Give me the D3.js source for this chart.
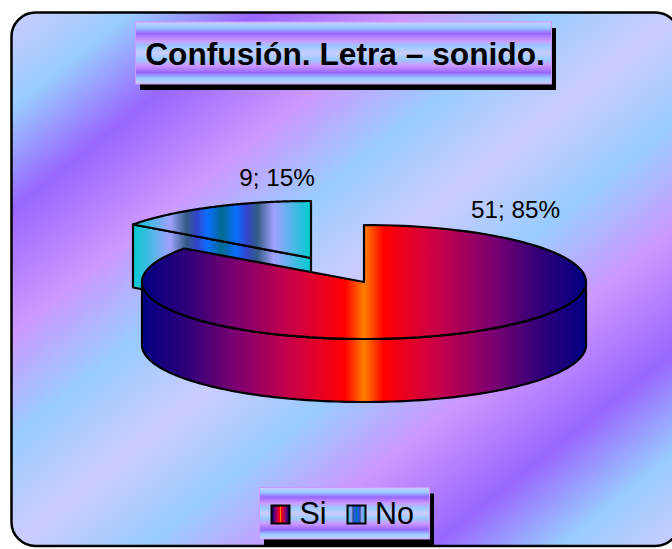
<!DOCTYPE html>
<html><head><meta charset="utf-8">
<style>html,body{margin:0;padding:0;background:#fff}svg{display:block}</style>
<script src="https://cdn.jsdelivr.net/npm/d3@7/dist/d3.min.js"></script>
</head><body><svg id="c" width="672" height="549"></svg>
<script>
const categories = ["Si", "No"];
const values = [51, 9];
const titleText = "Confusión. Letra – sonido.";

const svg = d3.select("#c");
const defs = svg.append("defs");
const nightStops = [[0,"#ccccff"],[.09,"#99ccff"],[.185,"#9966ff"],[.30,"#cc99ff"],[.40,"#99ccff"],[.5,"#ccccff"],[.6,"#99ccff"],[.70,"#cc99ff"],[.815,"#9966ff"],[.91,"#99ccff"],[1,"#ccccff"]];
const fireStops = [[0,"#000080"],[.104,"#300078"],[.216,"#800070"],[.336,"#c80048"],[.42,"#f00018"],[.457,"#ff0000"],[.5,"#ff8000"],[.545,"#ff0000"],[.58,"#f00018"],[.664,"#c80048"],[.784,"#800070"],[.896,"#300078"],[1,"#000080"]];
const oceanStops = [[0,"#00ccd0"],[.21,"#a0a0ff"],[.30,"#335c85"],[.36,"#3344cc"],[.42,"#0a6eff"],[.5,"#006a90"],[.58,"#0a6eff"],[.64,"#3344cc"],[.70,"#335c85"],[.79,"#a0a0ff"],[1,"#00ccd0"]];
function grad(id, stops, attrs){
  const g = defs.append("linearGradient").attr("id", id);
  Object.entries(attrs).forEach(([k,v]) => g.attr(k,v));
  g.selectAll("stop").data(stops).join("stop").attr("offset", d=>d[0]).attr("stop-color", d=>d[1]);
}
grad("bg", nightStops, {x1:0,y1:0,x2:1,y2:1});
grad("band", nightStops, {x1:0,y1:0,x2:0,y2:1});

const radiiX = [222,220], ry = 57, depth = 63;
const centers = [[364,282],[311,258]];
grad("s0", fireStops, {gradientUnits:"userSpaceOnUse",x1:142,x2:586,y1:0,y2:0});
grad("s1", oceanStops, {gradientUnits:"userSpaceOnUse",x1:133,x2:311,y1:0,y2:0});
grad("k0", fireStops, {});
grad("k1", oceanStops, {});

// chart area
svg.append("rect").attr("x",11.5).attr("y",12.5).attr("width",668).attr("height",533.5)
  .attr("rx",24).attr("ry",24).attr("fill","url(#bg)").attr("stroke","#000").attr("stroke-width",2.5);

function box(x,y,w,h){
  svg.append("rect").attr("x",x+4.5).attr("y",y+6).attr("width",w).attr("height",h).attr("fill","#000");
  svg.append("rect").attr("x",x).attr("y",y).attr("width",w).attr("height",h)
    .attr("fill","url(#band)").attr("stroke","#cc99ff").attr("stroke-width",1);
}
box(135.5,22,416,62);
svg.append("text").text(titleText).attr("x",345).attr("y",64.5).attr("text-anchor","middle")
  .attr("font-family","Liberation Sans").attr("font-weight","bold").attr("font-size",31.7).attr("fill","#000");

// pie
const pie = d3.pie().sort(null)(values);
const total = d3.sum(values);
const line = d3.line();
const pt = (i,a,dz=0) => [centers[i][0]+radiiX[i]*Math.sin(a), centers[i][1]-ry*Math.cos(a)+dz];
const arcPts = (i,a0,a1,dz=0) => d3.range(0,121).map(k => pt(i,a0+(a1-a0)*k/120,dz));
function drawSlice(i){
  const d = pie[i], c = centers[i], fill = `url(#s${i})`;
  const g = svg.append("g").attr("fill",fill).attr("stroke","#000").attr("stroke-width",2.2).attr("stroke-linejoin","round");
  if (i===1){
    const e = pt(i,d.startAngle);
    g.append("path").attr("d", line([c,e,[e[0],e[1]+depth],[c[0],c[1]+depth]])+"Z");
  }
  const lo = Math.max(d.startAngle,Math.PI/2), hi = Math.min(d.endAngle,Math.PI*1.5);
  if (hi>lo){
    g.append("path").attr("d", line([...arcPts(i,lo,hi),...arcPts(i,hi,lo,depth)])+"Z");
  }
  g.append("path").attr("d", line([c,...arcPts(i,d.startAngle,d.endAngle)])+"Z");
}
drawSlice(1);
drawSlice(0);

// data labels
const lab = (v) => `${v}; ${Math.round(v/total*100)}%`;
const labelPos = [[515.5,218],[277,186]];
svg.append("g").selectAll("text").data(values).join("text")
  .attr("x",(d,i)=>labelPos[i][0]).attr("y",(d,i)=>labelPos[i][1]).attr("text-anchor","middle")
  .attr("font-family","Liberation Sans").attr("font-size",24.3).attr("fill","#000").text(d=>lab(d));

// legend
box(259.5,487.5,170,51.5);
const swX = [271.5,347.5], txX = [299.5,375];
const lg = svg.append("g").selectAll("g").data(categories).join("g");
lg.append("rect").attr("x",(d,i)=>swX[i]).attr("y",505.5).attr("width",18).attr("height",18)
  .attr("fill",(d,i)=>`url(#k${i})`).attr("stroke","#000").attr("stroke-width",2);
lg.append("text").attr("x",(d,i)=>txX[i]).attr("y",524.3).attr("font-family","Liberation Sans")
  .attr("font-size",30.5).attr("fill","#000").text(d=>d);
</script></body></html>
